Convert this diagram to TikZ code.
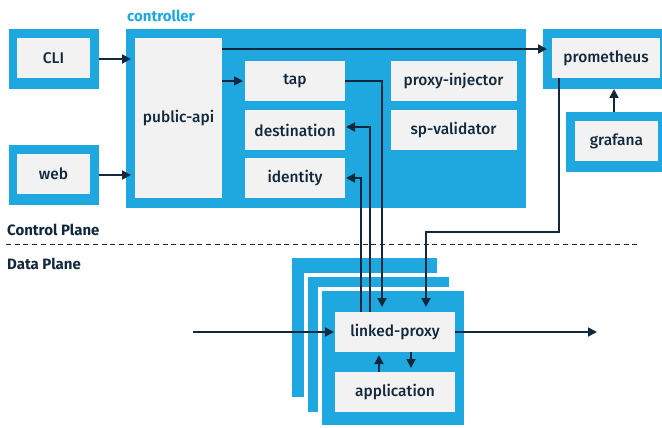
\documentclass[tikz,border=0pt]{standalone}
\usepackage{fontspec}
\setmainfont{Fira Sans Medium}[BoldFont={Fira Sans Bold}]
\usetikzlibrary{arrows.meta}
\definecolor{lblue}{HTML}{1EA8DF}
\definecolor{lgray}{HTML}{F2F2F2}
\definecolor{navy}{HTML}{12293D}
\begin{document}
\begin{tikzpicture}[x=1pt,y=-1pt,
  blk/.style={fill=lblue, draw=none, inner sep=0, outer sep=0},
  pod/.style={fill=lblue, draw=white, line width=4, inner sep=0, outer sep=0},
  inb/.style={fill=lgray, text=navy, inner sep=0, outer sep=0, font=\fontsize{15.5}{18}\selectfont, minimum height=40},
  lbl/.style={anchor=west, inner sep=0, font=\bfseries\fontsize{15}{18}\selectfont},
  arr/.style={draw=navy, line width=1.8, -{Triangle[length=9,width=9]}},
  plain/.style={draw=navy, line width=1.8}]
\useasboundingbox[fill=white] (0,0) rectangle (662,428);
% outer blue boxes
\node[blk, minimum width=90, minimum height=60] (cliO) at (54,59) {};
\node[blk, minimum width=90, minimum height=60] (webO) at (54,175) {};
\node[blk, minimum width=400, minimum height=179] (ctrl) at (326,118.5) {};
\node[blk, minimum width=119, minimum height=60] (promO) at (602.5,59) {};
\node[blk, minimum width=96, minimum height=60] (grafO) at (614,142) {};
% inner boxes
\node[inb, minimum width=73] (cli) at (53.5,58) {CLI};
\node[inb, minimum width=73] (web) at (53.5,174) {web};
\node[inb, minimum width=87, minimum height=160] (papi) at (178.5,118) {public-api};
\node[inb, minimum width=100] (tap) at (295,81) {tap};
\node[inb, minimum width=100] (dest) at (295,130) {destination};
\node[inb, minimum width=100] (ident) at (295,178) {identity};
\node[inb, minimum width=126] (pinj) at (453.5,81) {proxy-injector};
\node[inb, minimum width=126] (spv) at (453.5,130) {sp-validator};
\node[inb, minimum width=108] (prom) at (606,58) {prometheus};
\node[inb, minimum width=83] (graf) at (616.5,141) {grafana};
% labels
\node[lbl, text=lblue] (ctrllbl) at (127,16) {controller};
\node[lbl, text=navy] (cp) at (7,230) {Control Plane};
\node[lbl, text=navy] (dp) at (7,264) {Data Plane};
\coordinate (dl) at (6,244.5);
\coordinate (dr) at (638,244.5);
\draw[navy, line width=1.6, dash pattern=on 5pt off 3.7pt] (dl) -- (dr);
% pods
\node[pod, minimum width=149, minimum height=143] (pod1) at (364.5,327.5) {};
\node[pod, minimum width=145, minimum height=139] (pod2) at (378.5,344.5) {};
\node[pod, minimum width=146, minimum height=138] (pod3) at (393,358) {};
\node[inb, minimum width=120] (lp) at (395,332) {linked-proxy};
\node[inb, minimum width=120] (app) at (395,392) {application};
% connectors
\coordinate (pp) at ([yshift=-11pt]papi.north east);
\draw[arr, shorten >=4] (cliO.east) -- (papi.west |- cliO.east);
\draw[arr, shorten >=4] (webO.east) -- (papi.west |- webO.east);
\draw[arr, shorten >=2] (papi.east |- tap.west) -- (tap.west);
\draw[arr, shorten >=5] (pp) -- (prom.west |- pp);
\draw[arr] (grafO.north) -- (promO.south -| grafO.north);
\draw[arr, shorten >=5] (tap.east) -| ([xshift=-13pt]lp.north);
\draw[arr, shorten >=1] ([xshift=-25pt]lp.north) |- ([yshift=3pt]dest.east);
\draw[arr, shorten >=1] ([xshift=-34pt]lp.north) |- (ident.east);
\draw[arr, shorten >=5] ([xshift=-47pt]prom.south) -- ++(0,154) -| ([xshift=31pt]lp.north);
\draw[arr, shorten >=3] ([xshift=-16pt]app.north) -- ([xshift=-16pt]lp.south);
\draw[arr, shorten >=4] ([xshift=16pt]lp.south) -- ([xshift=16pt]app.north);
\coordinate (inp) at (193,332);
\coordinate (outp) at (597,332);
\draw[arr, shorten >=1] (inp) -- (lp.west);
\draw[arr] (lp.east) -- (outp);
\end{tikzpicture}
\end{document}
